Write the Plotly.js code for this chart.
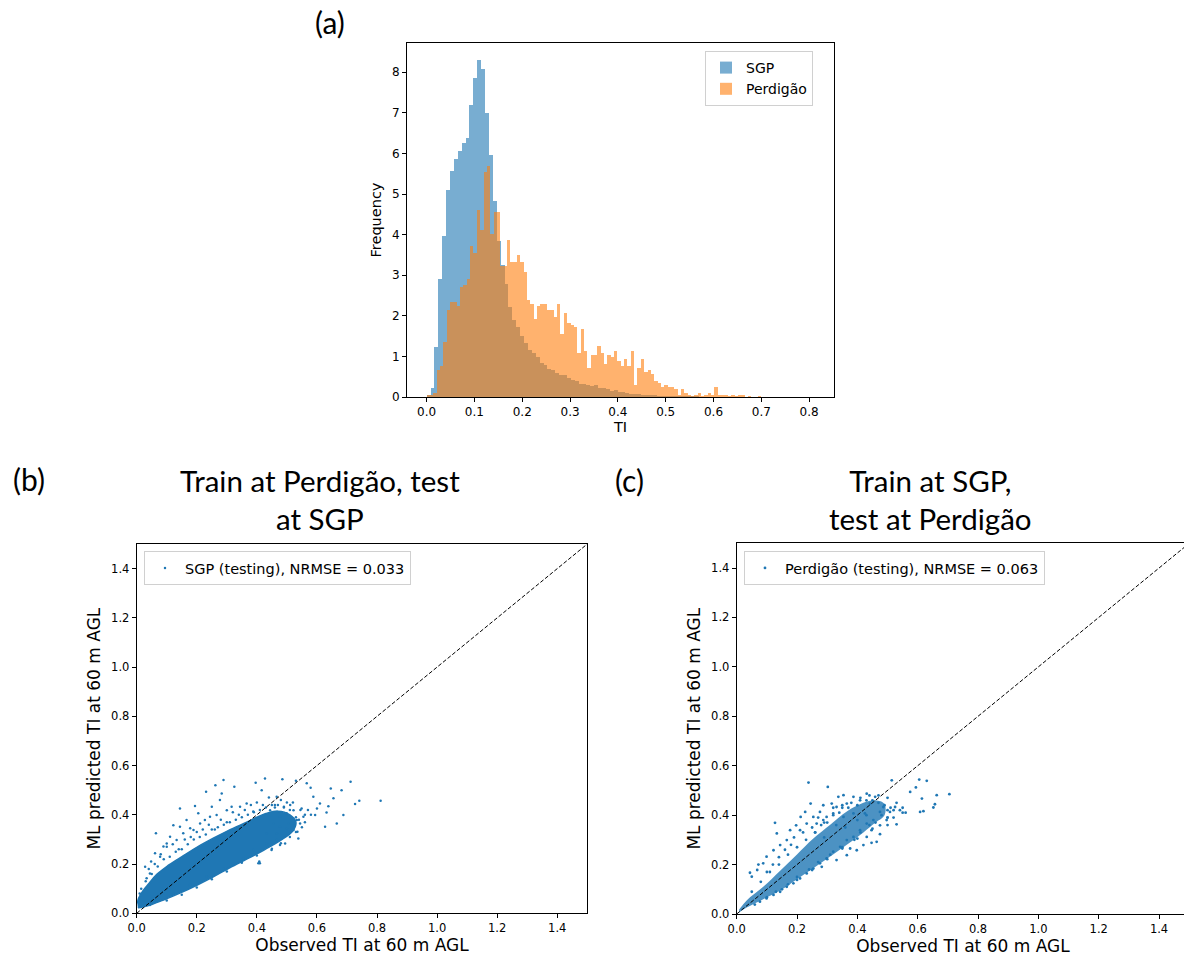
<!DOCTYPE html>
<html><head><meta charset="utf-8">
<script src="https://cdn.plot.ly/plotly-3.0.1.min.js"></script>
<style>html,body{margin:0;padding:0;overflow:hidden;background:#fff}#chart{width:1190px;height:956px}</style>
</head><body><div id="chart"></div>
<script>
// ---------- (a) histogram data ----------
const sgpBinStart = 0;
const sgpBinWidth = 0.00815;
const sgpFreq = [0.05,0.23,1.23,2.9,3.96,5.09,5.56,5.87,6.05,6.25,6.37,7.19,7.86,8.29,8.07,7.0,5.95,4.84,3.84,3.25,
  2.78,2.21,1.9,1.72,1.5,1.33,1.17,1.08,0.98,0.84,0.79,0.70,0.66,0.59,0.54,0.53,0.48,0.42,0.39,0.33,
  0.33,0.3,0.27,0.3,0.22,0.22,0.2,0.15,0.17,0.12,0.12,0.1,0.07,0.07,0.07,0.05,0.05,0.04,0.04,0.03,
  0.03,0.03,0.03,0.02,0.02,0.02,0.02,0.02,0.015,0.015,0.01,0.01,0.01,0.01,0.01,0.01,0.01,0.008,0.008,0.008,
  0.008,0.006,0.006,0.006,0.006,0.006,0.005,0.005,0.005,0.005,0.005,0.005,0.005,0.005,0.005,0.005,0.005,0.005,0.005,0.005];
const perdBinStart = 0;
const perdBinWidth = 0.007;
const perdFreq = [0.04,0.05,0.11,0.66,0.76,1.35,2.14,2.34,2.34,2.24,2.71,2.76,2.9,3.72,3.54,4.6,4.11,5.54,5.69,4.01,
  4.55,4.55,3.22,3.22,3.86,3.32,3.32,3.49,3.32,3.08,2.39,2.29,1.92,2.24,2.29,2.29,2.14,2.14,1.97,2.29,
  1.55,2.07,1.82,1.77,1.72,1.08,1.67,1.13,0.71,1.03,1.03,1.26,1.08,0.81,1.03,0.98,1.13,0.89,0.76,0.94,
  0.76,1.13,0.3,0.71,0.94,0.62,0.66,0.57,0.39,0.34,0.25,0.3,0.25,0.25,0.2,0.05,0.2,0.1,0.05,0.02,
  0.05,0.1,0.02,0.05,0.1,0.05,0.25,0.05,0.05,0.05,0.02,0.05,0.02,0.05,0.05,0.01,0.02,0.01,0.01,0.03];
const histNames = ['SGP', 'Perdigão'];

// ---------- (b) Train at Perdigão, test at SGP ----------
const sgpName = 'SGP (testing), NRMSE = 0.033';
// outline of the saturated (solid) part of the cloud
const sgpCoreObs  = [0.004,0.02,0.05,0.089,0.144,0.2,0.255,0.311,0.366,0.41,0.45,0.49,0.52, 0.53,0.51,0.47,0.43,0.4,0.366,0.311,0.255,0.2,0.144,0.1,0.067,0.04,0.02,0.006,0.002];
const sgpCorePred = [0.022,0.026,0.036,0.054,0.082,0.114,0.148,0.186,0.22,0.248,0.275,0.305,0.335, 0.37,0.4,0.415,0.405,0.39,0.37,0.34,0.305,0.268,0.225,0.19,0.158,0.12,0.09,0.06,0.04];
// individually visible points
const sgpObs  = [0.289,0.427,0.485,0.53,0.712,0.231,0.262,0.325,0.396,0.416,0.466,0.566,0.579,0.646,0.682,0.588,0.655,0.61,0.727,0.741,0.812,0.638,0.632,0.688,0.594,0.666,0.627,0.6,0.549,0.533,0.535,0.538,0.494,0.449,0.41,0.499,0.466,
  0.144,0.194,0.122,0.064,0.1,0.061,0.028,0.048,0.078,0.144,0.166,0.205,0.211,0.244,0.25,0.283,0.277,0.3,0.316,0.344,0.366,0.388,0.189,0.111,0.133,0.089,0.155,0.178,0.227,0.266,0.033,0.044,
  0.433,0.455,0.477,0.499,0.522,0.511,0.49,0.46,0.444,0.477,0.505,0.522,0.466,0.433,0.388,0.355,0.322,0.289,0.233,0.178,0.122,0.078,0.044,0.405,0.408,0.477,0.544,0.555,
  0.03,0.05,0.07,0.09,0.11,0.13,0.15,0.17,0.19,0.21,0.23,0.25,0.27,0.29,0.31,0.33,0.35,0.37,0.39,0.41,0.43,0.45,0.47,0.49,0.51,0.53,
  0.04,0.08,0.12,0.16,0.2,0.24,0.28,0.32,0.36,0.4,0.44,0.48,
  0.54,0.55,0.56,0.53,0.51,0.545,0.57,0.56,0.58,0.5,0.52,
  0.1,0.15,0.2,0.25,0.3,0.35,0.4,0.45,0.48,
  0.06,0.1,0.14,0.18,0.22,0.26,0.3,0.34,0.38,0.42,0.46,0.015,0.01];
const sgpPred = [0.541,0.548,0.544,0.538,0.534,0.494,0.52,0.514,0.53,0.5,0.473,0.528,0.51,0.507,0.5,0.473,0.467,0.446,0.444,0.457,0.457,0.435,0.409,0.399,0.399,0.365,0.352,0.426,0.426,0.379,0.331,0.304,0.284,0.257,0.203,0.345,0.325,
  0.426,0.436,0.358,0.325,0.284,0.244,0.189,0.21,0.23,0.352,0.379,0.406,0.365,0.392,0.433,0.487,0.46,0.419,0.433,0.433,0.446,0.413,0.338,0.311,0.298,0.271,0.325,0.345,0.379,0.399,0.142,0.162,
  0.325,0.365,0.392,0.406,0.419,0.44,0.433,0.44,0.419,0.352,0.365,0.338,0.298,0.284,0.257,0.223,0.203,0.183,0.149,0.115,0.081,0.054,0.034,0.203,0.21,0.277,0.365,0.392,
  0.13,0.16,0.19,0.22,0.23,0.25,0.26,0.28,0.30,0.31,0.32,0.34,0.35,0.36,0.37,0.38,0.39,0.40,0.41,0.42,0.43,0.44,0.44,0.43,0.42,0.39,
  0.18,0.24,0.28,0.3,0.33,0.36,0.38,0.41,0.42,0.45,0.47,0.46,
  0.38,0.35,0.4,0.33,0.31,0.42,0.42,0.37,0.4,0.45,0.45,
  0.052,0.075,0.105,0.138,0.17,0.205,0.235,0.262,0.285,
  0.2,0.27,0.26,0.31,0.34,0.34,0.37,0.4,0.44,0.44,0.43,0.1,0.08];

// ---------- (c) Train at SGP, test at Perdigão ----------
const perdName = 'Perdigão (testing), NRMSE = 0.063';
const perdCoreObs  = [0.008,0.033,0.088,0.144,0.199,0.254,0.309,0.365,0.42,0.46,0.49, 0.49,0.46,0.42,0.365,0.309,0.254,0.199,0.144,0.088,0.033,0.008];
const perdCorePred = [0.006,0.026,0.06,0.095,0.14,0.185,0.232,0.28,0.33,0.37,0.4, 0.445,0.46,0.45,0.415,0.36,0.305,0.24,0.175,0.11,0.055,0.018];
const perdObs  = [0.238,0.302,0.127,0.133,0.072,0.044,0.05,0.514,0.605,0.63,0.575,0.594,0.614,0.663,0.705,0.657,0.652,0.608,0.619,0.541,0.53,0.497,0.475,0.464,0.447,0.431,0.475,0.398,0.376,0.459,0.431,0.387,0.354,0.337,0.315,0.287,0.245,0.227,0.212,0.197,0.177,0.166,0.144,0.122,0.099,0.088,0.068,
  0.254,0.276,0.298,0.331,0.365,0.409,0.442,0.486,0.508,0.525,0.475,0.453,0.431,0.409,0.387,0.365,0.343,0.32,0.298,0.276,0.254,0.232,0.21,0.188,0.166,0.144,0.122,0.099,0.077,0.232,0.21,0.265,0.287,0.32,0.354,0.387,0.425,0.447,0.42,0.365,0.331,0.282,
  0.18,0.16,0.14,0.12,0.1,0.19,0.22,0.25,0.28,0.3,0.34,0.37,0.4,0.43,0.45,0.47,0.49,0.5,0.48,0.5,0.46,0.44,0.41,0.39,0.35,0.31,0.27,0.24,0.2,0.17,0.13,0.26,0.29,0.33,0.36,0.4,0.43,0.35,0.32,0.27,
  0.05,0.08,0.11,0.14,0.17,0.2,0.23,0.26,0.29,0.32,0.35,0.38,0.41,0.44,0.47,0.5,
  0.06,0.1,0.15,0.2,0.25,0.3,0.35,0.4,0.45,0.5,0.52,0.55,
  0.51,0.53,0.52,0.55,0.56,0.5];
const perdPred = [0.532,0.514,0.369,0.326,0.2,0.167,0.151,0.541,0.544,0.539,0.494,0.512,0.467,0.481,0.485,0.444,0.431,0.413,0.416,0.42,0.363,0.38,0.359,0.292,0.288,0.312,0.323,0.258,0.265,0.474,0.487,0.474,0.481,0.474,0.447,0.44,0.447,0.413,0.393,0.359,0.339,0.299,0.279,0.258,0.232,0.205,0.178,
  0.393,0.413,0.393,0.433,0.447,0.46,0.447,0.433,0.413,0.433,0.413,0.38,0.366,0.339,0.312,0.299,0.272,0.252,0.225,0.205,0.184,0.164,0.144,0.124,0.11,0.09,0.077,0.063,0.05,0.366,0.339,0.366,0.38,0.407,0.393,0.407,0.407,0.339,0.279,0.238,0.218,0.191,
  0.28,0.26,0.23,0.2,0.17,0.31,0.33,0.35,0.36,0.37,0.41,0.43,0.44,0.46,0.46,0.45,0.44,0.42,0.4,0.39,0.37,0.36,0.33,0.3,0.27,0.24,0.21,0.18,0.15,0.12,0.09,0.33,0.31,0.36,0.35,0.38,0.4,0.44,0.43,0.39,
  0.09,0.13,0.17,0.2,0.24,0.27,0.3,0.33,0.37,0.4,0.43,0.45,0.47,0.48,0.48,0.47,
  0.038,0.068,0.1,0.138,0.178,0.222,0.265,0.305,0.345,0.39,0.42,0.41,
  0.43,0.45,0.39,0.43,0.41,0.36];

// 1:1 reference line end points
const oneToOne = [0, 1.5];

// ---------- figure ----------
const W = 1190, H = 956;
const px = v => v / W, py = v => 1 - v / H;
const blue = '#1f77b4', orange = '#ff7f0e';
const tickFont = {family: 'DejaVu Sans', size: 12, color: '#000'};

const traces = [
  {type: 'bar', name: histNames[0], x: sgpFreq.map((_, i) => sgpBinStart + sgpBinWidth * (i + 0.5)), y: sgpFreq,
   width: sgpBinWidth, marker: {color: blue, line: {width: 0}}, opacity: 0.6, xaxis: 'x', yaxis: 'y', legend: 'legend', hoverinfo: 'skip'},
  {type: 'bar', name: histNames[1], x: perdFreq.map((_, i) => perdBinStart + perdBinWidth * (i + 0.5)), y: perdFreq,
   width: perdBinWidth, marker: {color: orange, line: {width: 0}}, opacity: 0.6, xaxis: 'x', yaxis: 'y', legend: 'legend', hoverinfo: 'skip'},

  {type: 'scatter', mode: 'lines', x: sgpCoreObs, y: sgpCorePred, fill: 'toself', fillcolor: blue, line: {width: 1.5, color: blue, shape: 'spline'},
   xaxis: 'x2', yaxis: 'y2', showlegend: false, hoverinfo: 'skip'},
  {type: 'scatter', mode: 'markers', name: sgpName, x: sgpObs, y: sgpPred, marker: {color: blue, size: 2.5},
   xaxis: 'x2', yaxis: 'y2', legend: 'legend2'},
  {type: 'scatter', mode: 'lines', x: oneToOne, y: oneToOne, line: {color: '#000', width: 1, dash: '4px,2px'},
   xaxis: 'x2', yaxis: 'y2', showlegend: false, hoverinfo: 'skip'},

  {type: 'scatter', mode: 'lines', x: perdCoreObs, y: perdCorePred, fill: 'toself', fillcolor: 'rgba(31,119,180,0.8)', line: {width: 0, color: blue, shape: 'spline'},
   xaxis: 'x3', yaxis: 'y3', showlegend: false, hoverinfo: 'skip'},
  {type: 'scatter', mode: 'markers', name: perdName, x: perdObs, y: perdPred, marker: {color: blue, size: 2.8},
   xaxis: 'x3', yaxis: 'y3', legend: 'legend3'},
  {type: 'scatter', mode: 'lines', x: oneToOne, y: oneToOne, line: {color: '#000', width: 1, dash: '4px,2px'},
   xaxis: 'x3', yaxis: 'y3', showlegend: false, hoverinfo: 'skip'}
];

const axBase = {showline: true, linecolor: '#000', linewidth: 1, mirror: true, ticks: 'outside', ticklen: 4,
  tickcolor: '#000', tickwidth: 1, showgrid: false, zeroline: false, tickfont: tickFont, automargin: false};
const scatX = Object.assign({}, axBase, {range: [0, 1.5], tickvals: [0,0.2,0.4,0.6,0.8,1.0,1.2,1.4], tickformat: '.1f',
  tickfont: {family: 'DejaVu Sans', size: 11.5, color: '#000'},
  title: {text: 'Observed TI at 60 m AGL', font: {family: 'DejaVu Sans', size: 17, color: '#000'}, standoff: 4}});
const scatY = Object.assign({}, axBase, {range: [0, 1.5], tickvals: [0,0.2,0.4,0.6,0.8,1.0,1.2,1.4], tickformat: '.1f',
  tickfont: {family: 'DejaVu Sans', size: 11.5, color: '#000'},
  title: {text: 'ML predicted TI at 60 m AGL', font: {family: 'DejaVu Sans', size: 17, color: '#000'}, standoff: 6}});

const annFont = {family: 'Lato', size: 30, color: '#000'};
const titleFont = {family: 'Lato', size: 29.5, color: '#000'};
const layout = {
  width: W, height: H, margin: {l: 0, r: 0, t: 0, b: 0}, paper_bgcolor: '#fff', plot_bgcolor: '#fff',
  barmode: 'overlay', bargap: 0, font: {family: 'DejaVu Sans', color: '#000'},
  xaxis: Object.assign({}, axBase, {domain: [px(407), px(834)], range: [-0.041, 0.852], anchor: 'y',
    tickvals: [0,0.1,0.2,0.3,0.4,0.5,0.6,0.7,0.8], tickformat: '.1f',
    title: {text: 'TI', font: {family: 'DejaVu Sans', size: 14.5, color: '#000'}, standoff: 2}}),
  yaxis: Object.assign({}, axBase, {domain: [py(397), py(43)], range: [0, 8.72], anchor: 'x',
    tickvals: [0,1,2,3,4,5,6,7,8],
    title: {text: 'Frequency', font: {family: 'DejaVu Sans', size: 14.5, color: '#000'}, standoff: 6}}),
  xaxis2: Object.assign({}, scatX, {domain: [px(136.7), px(587.3)], anchor: 'y2'}),
  yaxis2: Object.assign({}, scatY, {domain: [py(913.3), py(544)], anchor: 'x2'}),
  xaxis3: Object.assign({}, scatX, {domain: [px(736.7), px(1189.2)], anchor: 'y3'}),
  yaxis3: Object.assign({}, scatY, {domain: [py(914), py(543.3)], anchor: 'x3'}),
  legend: {x: px(705), y: py(51), xanchor: 'left', yanchor: 'top', bgcolor: '#fff', bordercolor: '#d0d0d0', borderwidth: 1,
    font: {family: 'DejaVu Sans', size: 14, color: '#000'}, traceorder: 'normal'},
  legend2: {x: px(144), y: py(551), xanchor: 'left', yanchor: 'top', bgcolor: '#fff', bordercolor: '#d0d0d0', borderwidth: 1,
    font: {family: 'DejaVu Sans', size: 14.5, color: '#000'}},
  legend3: {x: px(744), y: py(551), xanchor: 'left', yanchor: 'top', bgcolor: '#fff', bordercolor: '#d0d0d0', borderwidth: 1,
    font: {family: 'DejaVu Sans', size: 14.5, color: '#000'}},
  annotations: [
    {text: '(a)', x: px(330), y: py(22), xanchor: 'center', yanchor: 'middle', xref: 'paper', yref: 'paper', showarrow: false, font: annFont},
    {text: '(b)', x: px(29), y: py(479), xanchor: 'center', yanchor: 'middle', xref: 'paper', yref: 'paper', showarrow: false, font: annFont},
    {text: '(c)', x: px(629), y: py(480), xanchor: 'center', yanchor: 'middle', xref: 'paper', yref: 'paper', showarrow: false, font: annFont},
    {text: 'Train at Perdigão, test<br>at SGP', x: px(320), y: py(499), xanchor: 'center', yanchor: 'middle', xref: 'paper', yref: 'paper', showarrow: false,
     font: titleFont},
    {text: 'Train at SGP,<br>test at Perdigão', x: px(930), y: py(499), xanchor: 'center', yanchor: 'middle', xref: 'paper', yref: 'paper', showarrow: false,
     font: titleFont}
  ]
};

Plotly.newPlot('chart', traces, layout, {displayModeBar: false, staticPlot: true});
</script></body></html>
